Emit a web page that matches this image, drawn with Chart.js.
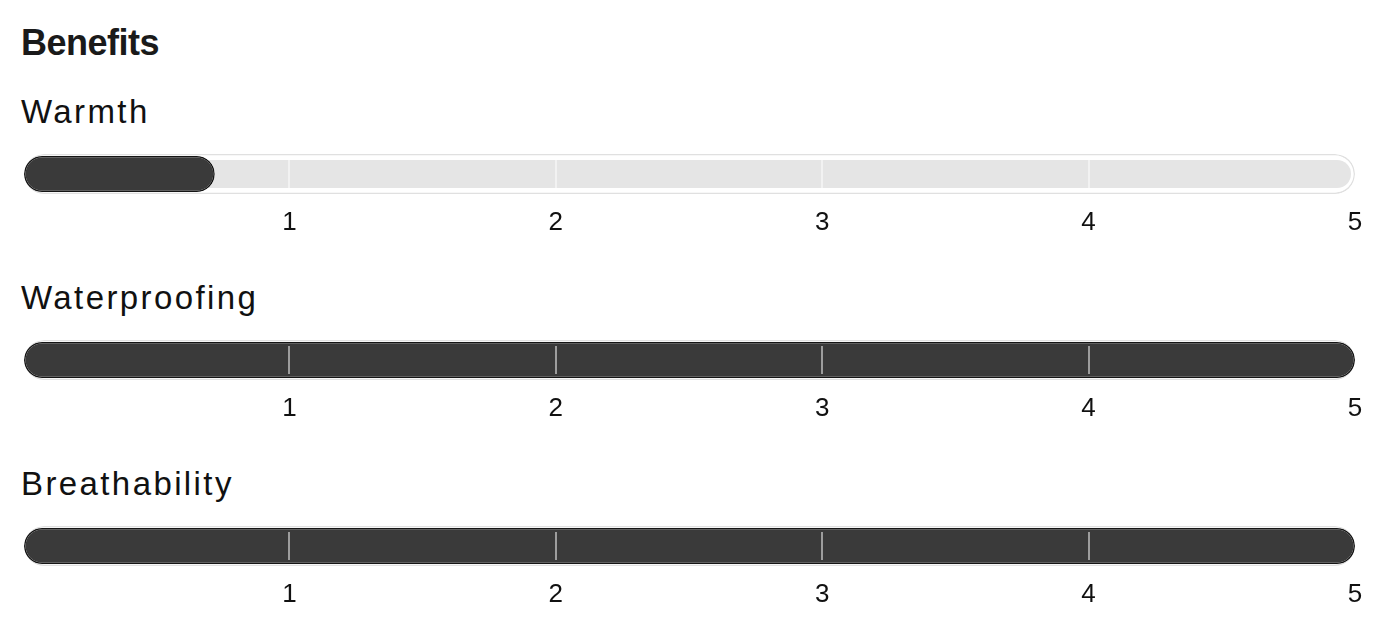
<!DOCTYPE html>
<html>
<head>
<meta charset="utf-8">
<script src="https://cdn.jsdelivr.net/npm/chart.js@4"></script>
<style>
  body { margin: 0; background: #fff; width: 1396px; height: 640px; position: relative; overflow: hidden; font-family: "Liberation Sans", Helvetica, Arial, sans-serif; }
  h3 { position: absolute; left: 21px; top: 25px; margin: 0; font-size: 36px; line-height: 36px; font-weight: bold; letter-spacing: -0.5px; color: #1a1a1a; }
  .label { position: absolute; left: 21px; font-size: 33px; line-height: 33px; letter-spacing: 2.4px; color: #111; }
  canvas { position: absolute; left: 0; }
</style>
</head>
<body>
<h3>Benefits</h3>
<div id="blocks"></div>
<script>
const categories = ["Warmth", "Waterproofing", "Breathability"];
const scores = [0.72, 5, 5];
const maxScore = 5;
const tickLabels = ["1", "2", "3", "4", "5"];

const blocks = document.getElementById("blocks");
const blockStep = 186;

categories.forEach((name, i) => {
  // label above each rating bar
  const label = document.createElement("div");
  label.className = "label";
  label.style.top = 95 + i * blockStep + "px";
  label.textContent = name;
  blocks.appendChild(label);

  const canvas = document.createElement("canvas");
  canvas.width = 1396;
  canvas.height = 100;
  canvas.style.top = 148 + i * blockStep + "px";
  blocks.appendChild(canvas);

  new Chart(canvas, {
    type: "bar",
    data: {
      labels: [name],
      datasets: [
        {
          // score
          data: [scores[i]],
          backgroundColor: "#3a3a3a",
          borderColor: "#151515",
          borderWidth: 1.5,
          borderRadius: 18,
          barThickness: 36,
          inflateAmount: 0,
        },
        {
          // track fill
          data: [maxScore],
          backgroundColor: "#e5e5e5",
          borderWidth: 0,
          borderRadius: 14,
          barThickness: 36,
          inflateAmount: -4,
        },
        {
          // track outline
          data: [maxScore],
          backgroundColor: "#ffffff",
          borderColor: "#e0e0e0",
          borderWidth: 1.5,
          borderRadius: 20,
          barThickness: 40,
          inflateAmount: 0,
        },
      ],
    },
    options: {
      indexAxis: "y",
      responsive: false,
      animation: false,
      events: [],
      layout: { padding: { top: 12, left: 23, right: 41, bottom: 9 } },
      datasets: { bar: { grouped: false, borderSkipped: false, clip: false } },
      plugins: { legend: { display: false }, tooltip: { enabled: false } },
      scales: {
        x: {
          min: 0,
          max: maxScore,
          afterFit: (scale) => {
            // keep the track area 28px tall, labels hang below it
            scale.height = 51;
          },
          ticks: {
            stepSize: 1,
            padding: 19.5,
            maxRotation: 0,
            color: "#111",
            font: { family: "'Liberation Sans', Helvetica, Arial, sans-serif", size: 26 },
            callback: (v) => tickLabels[v - 1] || "",
          },
          grid: {
            z: 1,
            lineWidth: 2,
            drawTicks: false,
            color: (ctx) =>
              ctx.tick && ctx.tick.value > 0 && ctx.tick.value < maxScore
                ? "rgba(255,255,255,0.5)"
                : "transparent",
          },
          border: { display: false },
        },
        y: { display: false },
      },
    },
  });
});
</script>
</body>
</html>
